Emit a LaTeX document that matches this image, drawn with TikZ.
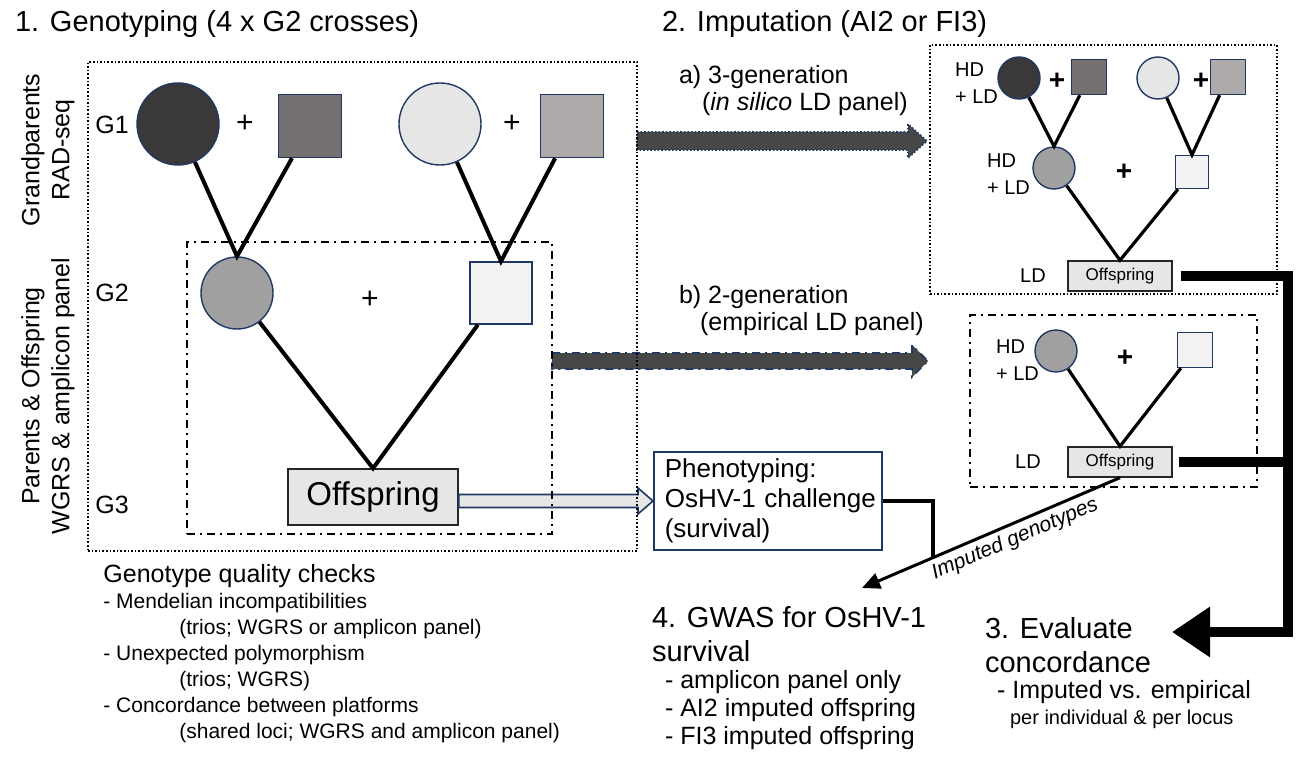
\documentclass[tikz,border=0pt]{standalone}
\usepackage{fontspec}
\setmainfont{Liberation Sans}
\usetikzlibrary{calc,arrows.meta,positioning}

\definecolor{navy}{HTML}{203864}
\definecolor{gpDark}{HTML}{3A3838}
\definecolor{gpMid}{HTML}{767171}
\definecolor{gpLight}{HTML}{E7E6E6}
\definecolor{gpGrey}{HTML}{AEAAAA}
\definecolor{parF}{HTML}{A0A0A0}
\definecolor{parM}{HTML}{F2F2F2}
\definecolor{offFill}{HTML}{E7E6E6}
\definecolor{arrFill}{HTML}{474747}

%% block arrow pointing right: style, tail, tip, half shaft, half head, head length
\newcommand{\fatarrow}[6]{%
  \draw[#1] ($(#2)+(0,-#4)$) -- ($(#3)+(-#6,-#4)$) -- ($(#3)+(-#6,-#5)$) -- (#3)
    -- ($(#3)+(-#6,#5)$) -- ($(#3)+(-#6,#4)$) -- ($(#2)+(0,#4)$) -- cycle;}

\tikzset{
  fem/.style={circle,draw=navy,line width=0.7pt,inner sep=0pt,minimum size=#1},
  mal/.style={rectangle,draw=navy,line width=0.7pt,inner sep=0pt,minimum size=#1},
  kid/.style={rectangle,draw=black!85,line width=0.7pt,fill=offFill,inner sep=0pt},
  link/.style={line width=2pt},
  slink/.style={line width=1.6pt},
  plus/.style={font=\fontsize{15}{15}\selectfont},
  bplus/.style={font=\bfseries\fontsize{14}{14}\selectfont},
  head/.style={font=\fontsize{14.5}{17}\selectfont},
  body/.style={font=\fontsize{12.5}{15}\selectfont},
  lab/.style={font=\fontsize{10}{13.5}\selectfont},
  dashdot/.style={line width=0.8pt,dash pattern=on 4pt off 2.5pt on 1pt off 2.5pt},
  dots/.style={line width=0.8pt,densely dotted},
  rail/.style={line width=5pt,line join=miter},
}

\begin{document}
\begin{tikzpicture}[x=0.5pt,y=-0.5pt]
\fill[white] (0,0) rectangle (1296,759);
\useasboundingbox (0,0) rectangle (1296,759);

%% headings
\node[head,anchor=west] (h1) at (8,24) {1. Genotyping (4 x G2 crosses)};
\node[head,anchor=west] (h2) at (655,24) {2. Imputation (AI2 or FI3)};

%% side labels
\node[body,rotate=90,align=center] (sGP) at (48,150) {Grandparents\\RAD-seq};
\node[body,rotate=90,align=center] (sPO) at (48,396) {Parents \& Offspring\\WGRS \& amplicon panel};
\node[body] (g1) at (112,125) {G1};
\node[body] (g2) at (112,293) {G2};
\node[body] (g3) at (112,505) {G3};

%% G1 grandparents
\node[fem=41pt,fill=gpDark] (gpA) at (178,124) {};
\node[plus] (p1) at (245,124) {+};
\node[mal=31.5pt,fill=gpMid] (gpB) at (310,126) {};
\node[fem=41pt,fill=gpLight] (gpC) at (440,124) {};
\node[plus] (p2) at (512,124) {+};
\node[mal=31.5pt,fill=gpGrey] (gpD) at (572,126) {};
%% G2 parents
\node[fem=36pt,fill=parF] (dam) at (237,293) {};
\node[plus] (p3) at (370,300) {+};
\node[mal=31pt,fill=parM] (sire) at (501,293) {};
%% G3
\node[kid,minimum width=85pt,minimum height=28pt,font=\fontsize{16.5}{18}\selectfont] (off) at (373,497) {Offspring};

\draw[link] (gpA) -- (dam.north) -- (gpB);
\draw[link] (gpC) -- (sire.north) -- (gpD);
\draw[link] (dam) -- (off.north) -- (sire);

%% 3-generation panel
\node[lab,align=left,anchor=west] (taHD1) at (948,83) {HD\\+ LD};
\node[fem=21pt,fill=gpDark] (taA) at (1019,78) {};
\node[bplus] (taP1) at (1057,81) {+};
\node[mal=17.5pt,fill=gpMid] (taB) at (1089,77) {};
\node[fem=21pt,fill=gpLight] (taC) at (1158,78) {};
\node[bplus] (taP2) at (1201,81) {+};
\node[mal=17.5pt,fill=gpGrey] (taD) at (1228,77) {};
\node[lab,align=left,anchor=west] (taHD2) at (980,174) {HD\\+ LD};
\node[fem=21pt,fill=parF] (taDam) at (1054,168) {};
\node[bplus] (taP3) at (1124,172) {+};
\node[mal=16.5pt,fill=parM] (taSire) at (1192,172) {};
\node[kid,minimum width=52pt,minimum height=15pt,font=\fontsize{8.5}{10}\selectfont] (taOff) at (1120,276) {Offspring};
\node[lab] (taLD) at (1033,276) {LD};
\draw[slink] (taA) -- (taDam.north) -- (taB);
\draw[slink] (taC) -- (taSire.north) -- (taD);
\draw[slink] (taDam) -- (taOff.north) -- (taSire);

%% 2-generation panel
\node[lab,align=left,anchor=west] (tbHD) at (989,360) {HD\\+ LD};
\node[fem=21pt,fill=parF] (tbDam) at (1056,351) {};
\node[bplus] (tbP) at (1125,358) {+};
\node[mal=17.5pt,fill=parM] (tbSire) at (1195,350) {};
\node[kid,minimum width=52pt,minimum height=15pt,font=\fontsize{8.5}{10}\selectfont] (tbOff) at (1120,462) {Offspring};
\node[lab] (tbLD) at (1028,462) {LD};
\draw[slink] (tbDam) -- (tbOff.north) -- (tbSire);

%% imputation routes
\node[body,anchor=west] (la1) at (672,77) {a) 3-generation};
\node[body,anchor=west] (la2) at (695,104) {(\textit{in silico} LD panel)};
\node[body,anchor=west] (lb1) at (672,297) {b) 2-generation};
\node[body,anchor=west] (lb2) at (693,324) {(empirical LD panel)};
\coordinate (aT) at (637,141);
\coordinate (aH) at (927,141);
\fatarrow{fill=arrFill,draw=navy,dots}{aT}{aH}{9}{17}{19}
\coordinate (bT) at (552,361);
\coordinate (bH) at (928,361);
\fatarrow{fill=arrFill,draw=navy,dashdot}{bT}{bH}{8}{16}{16}

%% phenotyping
\node[draw=navy,line width=0.8pt,font=\fontsize{13}{15}\selectfont,align=left,anchor=west,
  text width=103pt,minimum height=48.5pt,inner xsep=5.5pt] (phe) at (653,501)
  {Phenotyping:\\\mbox{OsHV-1 challenge}\\(survival)};
\coordinate (hT) at (off.east |- phe.west);
\fatarrow{fill=offFill,draw=navy,line width=0.8pt}{hT}{phe.west}{6.5}{13}{15}

%% frames
\node[draw,dots,inner sep=0pt,minimum width=274.5pt,minimum height=244.5pt] (gbox) at (362.5,306.5) {};
\node[draw,dashdot,inner sep=0pt,minimum width=182.5pt,minimum height=146pt] (pbox) at (369.5,388) {};
\node[draw,dots,inner sep=0pt,minimum width=173.5pt,minimum height=124.5pt] (abox) at (1103.5,169.5) {};
\node[draw,dashdot,inner sep=0pt,minimum width=143.5pt,minimum height=86pt] (bbox) at (1113.5,401) {};

%% GWAS and concordance
\node[head,align=left,anchor=west] (gwas) at (645,634) {4. GWAS for OsHV-1\\survival};
\node[body,align=left,anchor=west,font=\fontsize{12.5}{14}\selectfont] (gwasL) at (658,710) {- amplicon panel only\\- AI2 imputed offspring\\- FI3 imputed offspring};
\node[head,align=left,anchor=west] (eval) at (978,645) {3. Evaluate\\concordance};
\node[body,anchor=west] (evalL) at (990,692) {- Imputed vs. empirical};
\node[anchor=west,font=\fontsize{10}{12}\selectfont] (evalS) at (1003,719) {per individual \& per locus};

\coordinate (gwTip) at (862,588);
\draw[line width=1.5pt,-{Triangle[length=9pt,width=8pt]}] (tbOff.south)
  -- node[pos=0.43,sloped,below,inner sep=2pt,font=\itshape\fontsize{10.5}{12}\selectfont] (impLab) {Imputed genotypes}
  coordinate[pos=0.725] (mrg) (gwTip);
\draw[line width=1.8pt] (phe.east) -| (mrg);

\coordinate (rTop) at (1288,276);
\coordinate (rBot) at (1288,632);
\coordinate (evTip) at (1172,632);
\draw[rail,shorten <=4pt,-{Triangle[length=19pt,width=24pt]}] (taOff.east) -- (rTop) -- (rBot) -- (evTip);
\draw[rail,shorten <=3pt] (tbOff.east) -- (tbOff.east -| rTop);

%% quality checks
\node[anchor=north west,align=left,inner sep=0pt,font=\fontsize{10.5}{13}\selectfont] (qc) at (103,564)
  {{\fontsize{12.5}{13}\selectfont Genotype quality checks}\\
   - Mendelian incompatibilities\\
   \hspace*{38pt}(trios; WGRS or amplicon panel)\\
   - Unexpected polymorphism\\
   \hspace*{38pt}(trios; WGRS)\\
   - Concordance between platforms\\
   \hspace*{38pt}(shared loci; WGRS and amplicon panel)};
\end{tikzpicture}
\end{document}
